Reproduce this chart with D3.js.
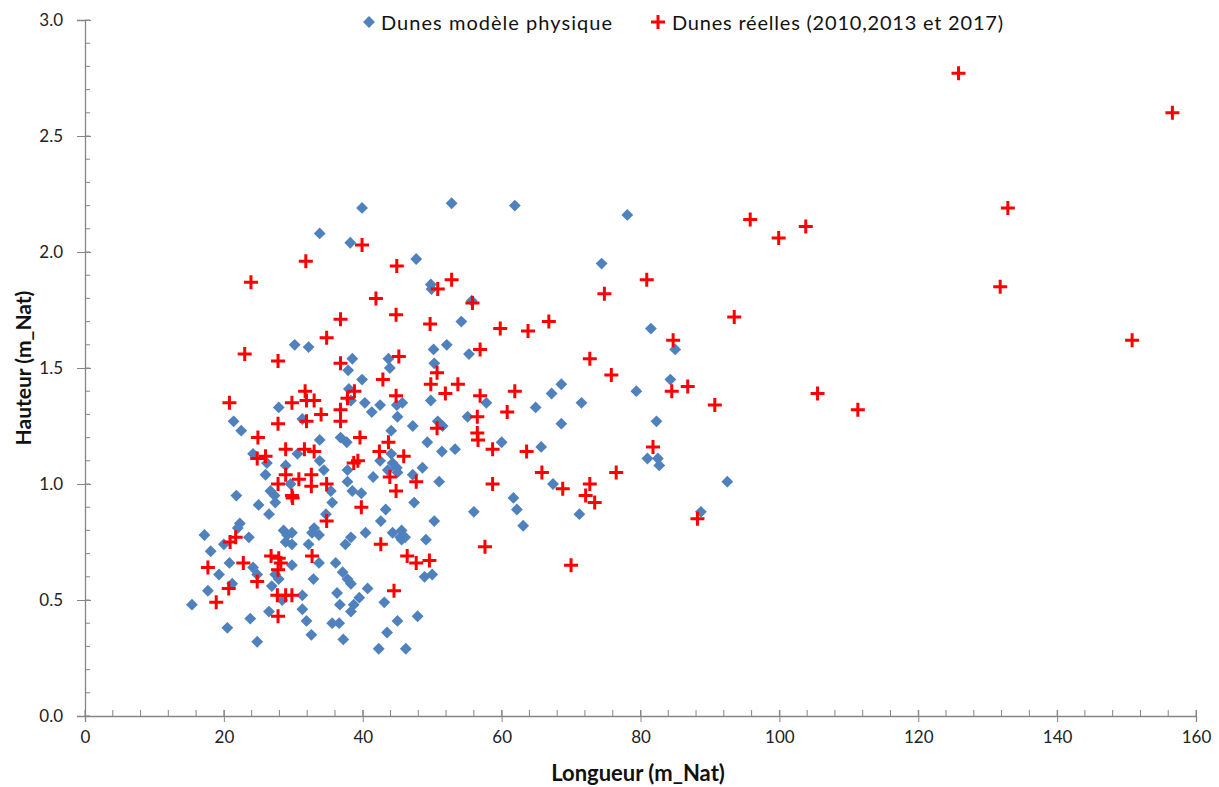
<!DOCTYPE html>
<html>
<head>
<meta charset="utf-8">
<script src="https://cdn.jsdelivr.net/npm/d3@7"></script>
<style>
  body { margin: 0; background: #fff; }
  text { font-family: Lato, "Open Sans", sans-serif; }
</style>
</head>
<body>
<div id="chart"></div>
<script>
// Dunes modèle physique : longueur (m_Nat)
var modeleX = [39.9,33.8,38.2,30.2,32.2,38.5,37.9,43.7,43.9,39.9,38.0,38.3,40.3,42.5,41.3,44.9,27.9,31.3,21.4,22.5,
  45.0,33.8,36.8,37.7,44.1,30.6,24.2,42.5,44.1,33.8,26.2,28.9,37.8,34.4,44.9,45.0,26.0,41.5,37.8,29.6,
  35.4,38.5,39.8,26.7,27.3,21.8,27.4,35.6,25.0,26.5,43.3,42.6,34.7,22.3,22.0,33.0,33.7,32.7,28.6,29.8,
  29.1,40.4,44.3,45.4,17.2,23.6,20.0,28.9,29.8,38.3,37.5,32.2,18.1,20.8,29.8,33.7,36.1,19.3,24.2,24.8,
  27.4,27.9,26.9,37.1,37.8,38.3,32.9,21.2,40.7,39.5,17.7,36.3,28.4,31.3,15.4,31.3,36.7,38.7,38.3,43.1,
  26.5,23.8,31.9,35.6,36.6,45.0,20.5,32.6,37.2,43.5,24.8,42.3,46.2,47.9,
  52.8,61.9,78.1,47.7,74.4,49.8,49.9,55.7,54.2,50.2,52.1,55.3,50.3,45.7,49.8,57.8,67.2,68.6,64.9,55.1,
  71.5,68.6,50.8,51.5,47.2,60.0,49.3,51.4,53.3,65.7,43.6,44.3,48.6,47.2,51.0,67.4,71.2,61.7,62.2,63.1,
  56.0,47.4,50.3,45.6,46.1,45.6,49.1,48.9,50.0,81.5,85.0,84.3,79.4,82.3,81.0,82.5,82.7,92.5,88.7];
// Dunes modèle physique : hauteur (m_Nat)
var modeleY = [2.19,2.08,2.04,1.60,1.59,1.54,1.49,1.54,1.50,1.45,1.41,1.36,1.35,1.34,1.31,1.34,1.33,1.28,1.27,1.23,
  1.29,1.19,1.20,1.18,1.23,1.13,1.13,1.10,1.13,1.10,1.09,1.08,1.06,1.06,1.07,1.05,1.04,1.03,1.01,1.00,
  0.97,0.97,0.96,0.97,0.95,0.95,0.92,0.92,0.91,0.87,0.89,0.84,0.87,0.83,0.81,0.81,0.78,0.79,0.80,0.79,
  0.78,0.79,0.79,0.77,0.78,0.77,0.74,0.75,0.74,0.77,0.74,0.74,0.71,0.66,0.65,0.66,0.66,0.61,0.64,0.61,
  0.61,0.59,0.56,0.62,0.59,0.57,0.59,0.57,0.55,0.51,0.54,0.53,0.50,0.52,0.48,0.46,0.48,0.48,0.45,0.49,
  0.45,0.42,0.41,0.40,0.40,0.41,0.38,0.35,0.33,0.36,0.32,0.29,0.29,0.43,
  2.21,2.20,2.16,1.97,1.95,1.86,1.84,1.79,1.70,1.58,1.60,1.56,1.52,1.35,1.36,1.35,1.39,1.43,1.33,1.29,
  1.35,1.26,1.27,1.25,1.25,1.18,1.18,1.14,1.15,1.16,1.06,1.09,1.07,1.04,1.01,1.00,0.87,0.94,0.89,0.82,
  0.88,0.92,0.84,0.80,0.77,0.76,0.76,0.60,0.61,1.67,1.58,1.45,1.40,1.27,1.11,1.11,1.08,1.01,0.88];

// Dunes réelles (2010, 2013 et 2017)
var reellesX = [39.9,31.8,44.9,23.9,41.9,44.8,36.8,34.8,23.0,27.8,36.8,45.2,42.9,38.8,37.8,31.7,31.9,33.0,29.8,20.8,
  44.8,34.0,36.8,36.8,31.9,27.8,24.9,39.6,43.7,28.9,31.6,33.0,24.8,26.0,42.4,38.7,39.3,28.9,30.8,32.6,
  43.9,27.8,32.6,34.8,44.8,29.8,29.9,39.8,34.8,21.7,20.9,42.6,32.7,26.8,27.9,28.2,22.8,17.7,27.8,24.8,
  20.7,44.5,27.7,28.9,29.8,18.9,27.8,
  52.8,50.8,74.8,55.8,49.7,59.8,63.8,66.8,56.9,72.7,75.8,50.7,49.8,53.7,51.9,56.9,61.9,60.8,56.5,50.7,
  56.5,56.6,58.7,63.6,45.9,47.7,58.7,65.8,68.8,76.5,72.7,72.1,73.4,57.6,46.4,47.7,49.6,70.0,
  95.8,99.9,103.8,80.9,93.5,84.7,84.5,86.8,90.7,105.5,111.3,81.8,88.2,125.8,156.6,132.9,131.8,150.8];
var reellesY = [2.03,1.96,1.94,1.87,1.80,1.73,1.71,1.63,1.56,1.53,1.52,1.55,1.45,1.40,1.37,1.40,1.36,1.36,1.35,1.35,
  1.38,1.30,1.32,1.27,1.27,1.26,1.20,1.20,1.18,1.15,1.15,1.14,1.11,1.12,1.14,1.09,1.10,1.04,1.02,1.04,
  1.03,1.00,0.99,1.00,0.97,0.95,0.94,0.90,0.84,0.77,0.75,0.74,0.69,0.69,0.68,0.66,0.66,0.64,0.63,0.58,
  0.55,0.54,0.52,0.52,0.52,0.49,0.43,
  1.88,1.84,1.82,1.78,1.69,1.67,1.66,1.70,1.58,1.54,1.47,1.48,1.43,1.43,1.39,1.38,1.40,1.31,1.29,1.24,
  1.22,1.19,1.15,1.14,1.12,1.01,1.00,1.05,0.98,1.05,1.00,0.95,0.92,0.73,0.69,0.66,0.67,0.65,
  2.14,2.06,2.11,1.88,1.72,1.62,1.40,1.42,1.34,1.39,1.32,1.16,0.85,2.77,2.60,2.19,1.85,1.62];

var xTicks = [0,20,40,60,80,100,120,140,160];
var yTicks = [0.0,0.5,1.0,1.5,2.0,2.5,3.0];
var legendLabels = ["Dunes modèle physique", "Dunes réelles (2010,2013 et 2017)"];

var W = 1219, H = 787;
var mLeft = 85, mRight = 1196, mTop = 20, mBottom = 716;

var svg = d3.select("#chart").append("svg").attr("width", W).attr("height", H);

var x = d3.scaleLinear().domain([0,160]).range([mLeft,mRight]);
var y = d3.scaleLinear().domain([0,3]).range([mBottom,mTop]);

var axisColor = "#868686";

// minor ticks (inside only)
var gx = svg.append("g");
gx.selectAll("line").data(d3.range(0,161,4)).enter().append("line")
  .attr("x1", function(d){ return x(d); }).attr("x2", function(d){ return x(d); })
  .attr("y1", mBottom).attr("y2", mBottom-6)
  .attr("stroke", axisColor);
var gy = svg.append("g");
gy.selectAll("line").data(d3.range(0,31).map(function(i){ return i/10; })).enter().append("line")
  .attr("y1", function(d){ return y(d); }).attr("y2", function(d){ return y(d); })
  .attr("x1", mLeft).attr("x2", mLeft+5)
  .attr("stroke", axisColor);

var xAxis = svg.append("g").attr("transform","translate(0,"+mBottom+")")
  .call(d3.axisBottom(x).tickValues(xTicks).tickSize(6).tickPadding(9).tickFormat(d3.format("d")));
var yAxis = svg.append("g").attr("transform","translate("+mLeft+",0)")
  .call(d3.axisLeft(y).tickValues(yTicks).tickSize(8).tickPadding(14).tickFormat(d3.format(".1f")));

[xAxis, yAxis].forEach(function(g){
  g.select(".domain").attr("stroke", axisColor).attr("stroke-width", 1.3);
  g.selectAll(".tick line").attr("stroke", axisColor);
  g.selectAll(".tick text").attr("fill", "#222").style("font-size","17px").style("font-family","Lato, sans-serif");
});
// major ticks cross the axis
xAxis.selectAll(".tick line").attr("y1", -6);
yAxis.selectAll(".tick line").attr("x1", 6);

svg.append("text").attr("x", 638).attr("y", 781)
  .attr("text-anchor","middle").style("font-size","22px").style("font-weight","bold").attr("fill","#111")
  .text("Longueur (m_Nat)");
svg.append("text").attr("transform","translate(31,368) rotate(-90)")
  .attr("text-anchor","middle").style("font-size","21px").style("font-weight","bold").attr("fill","#111")
  .text("Hauteur (m_Nat)");

var blue = "#4F81BD", red = "#FF0000";

var diamond = d3.symbol().type(d3.symbolSquare).size(70)();
svg.append("g").selectAll("path").data(d3.range(modeleX.length)).enter().append("path")
  .attr("d", diamond)
  .attr("transform", function(i){ return "translate("+x(modeleX[i])+","+y(modeleY[i])+") rotate(45)"; })
  .attr("fill", blue);

function plus(g, cx, cy){
  g.append("path").attr("d", "M"+(cx-7)+","+cy+"H"+(cx+7)+"M"+cx+","+(cy-7)+"V"+(cy+7))
    .attr("stroke", red).attr("stroke-width", 3).attr("fill","none");
}
var gr = svg.append("g");
reellesX.forEach(function(v,i){ plus(gr, x(v), y(reellesY[i])); });

// legend
var lg = svg.append("g");
lg.append("path").attr("d", diamond).attr("transform","translate(369,22) rotate(45)").attr("fill", blue);
lg.append("text").attr("x", 381).attr("y", 30).style("font-size","20px").attr("fill","#111")
  .attr("textLength", 231).text(legendLabels[0]);
plus(lg, 658, 22);
lg.append("text").attr("x", 672).attr("y", 30).style("font-size","20px").attr("fill","#111")
  .attr("textLength", 331).text(legendLabels[1]);
</script>
</body>
</html>
